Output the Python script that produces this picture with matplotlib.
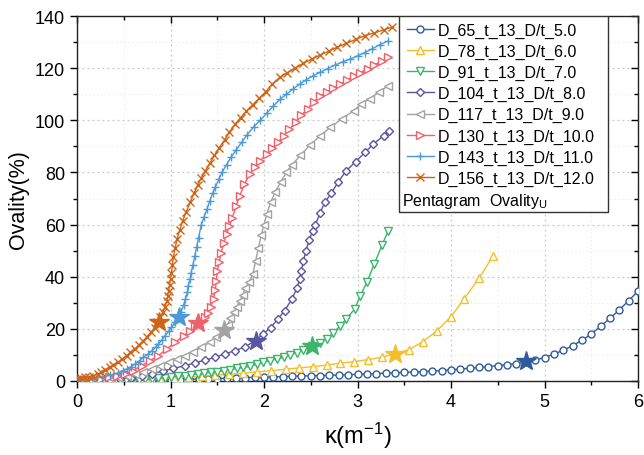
import matplotlib
matplotlib.use("Agg")
import matplotlib.pyplot as plt
from matplotlib.patches import Rectangle
from matplotlib.ticker import MultipleLocator

plt.rcParams["font.family"] = ["Liberation Sans", "DejaVu Sans"]
plt.rcParams["mathtext.fontset"] = "custom"
plt.rcParams["mathtext.rm"] = "Liberation Sans"
plt.rcParams["mathtext.it"] = "Liberation Sans:italic"

# ---- data (kappa in 1/m, ovality in %) ----
labels = ["D_65_t_13_D/t_5.0", "D_78_t_13_D/t_6.0", "D_91_t_13_D/t_7.0",
          "D_104_t_13_D/t_8.0", "D_117_t_13_D/t_9.0", "D_130_t_13_D/t_10.0",
          "D_143_t_13_D/t_11.0", "D_156_t_13_D/t_12.0"]

k_d65 = [round(0.1 * i, 1) for i in range(61)]
ov_d65 = [0.0, 0.0, 0.0, 0.05, 0.1, 0.15, 0.2, 0.3, 0.35, 0.45, 0.5,
          0.55, 0.65, 0.75, 0.85, 0.95, 1.05, 1.15, 1.3, 1.4, 1.5,
          1.6, 1.7, 1.8, 1.9, 2.0, 2.1, 2.2, 2.3, 2.4, 2.55,
          2.7, 2.85, 3.0, 3.15, 3.3, 3.45, 3.6, 3.8, 4.0, 4.3,
          4.6, 4.9, 5.2, 5.5, 5.9, 6.3, 6.7, 7.2, 8.0, 9.0,
          10.3, 11.8, 13.5, 15.6, 18.0, 21.0, 24.0, 27.3, 30.8, 34.5]

k_d78 = [0.00, 0.15, 0.30, 0.45, 0.59, 0.74, 0.89, 1.04, 1.19, 1.34, 1.48,
         1.63, 1.78, 1.93, 2.08, 2.23, 2.37, 2.52, 2.67, 2.81, 2.96,
         3.11, 3.26, 3.40, 3.55, 3.70, 3.85, 4.00, 4.14, 4.30, 4.45]
ov_d78 = [0.0, 0.05, 0.1, 0.25, 0.4, 0.6, 0.9, 1.2, 1.5, 1.8, 2.2,
          2.6, 3.0, 3.5, 4.0, 4.5, 5.0, 5.5, 6.1, 6.8, 7.4,
          8.2, 9.1, 10.4, 12.0, 15.1, 19.3, 24.7, 31.5, 39.4, 48.0]

k_d91 = [0.00, 0.14, 0.28, 0.42, 0.52, 0.59, 0.66, 0.73, 0.80, 0.87, 0.94,
         1.01, 1.08, 1.15, 1.22, 1.29, 1.36, 1.43, 1.50, 1.57, 1.64,
         1.71, 1.78, 1.85, 1.92, 1.99, 2.06, 2.14, 2.21, 2.28, 2.35,
         2.42, 2.51, 2.60, 2.67, 2.74, 2.81, 2.88, 2.97, 3.03, 3.10,
         3.18, 3.26, 3.33]
ov_d91 = [0.0, 0.05, 0.1, 0.2, 0.3, 0.4, 0.5, 0.7, 0.9, 1.1, 1.3,
          1.5, 1.8, 2.1, 2.4, 2.7, 3.0, 3.3, 3.6, 4.0, 4.4,
          4.8, 5.2, 5.6, 6.4, 7.1, 7.8, 8.4, 9.1, 10.0, 10.9,
          11.8, 13.3, 14.6, 16.1, 18.4, 21.0, 23.8, 27.6, 32.7, 37.9,
          44.9, 52.0, 57.7]

k_d104 = [0.00, 0.12, 0.23, 0.35, 0.46, 0.58, 0.69, 0.80, 0.92, 1.03,
          1.16, 1.26, 1.37, 1.48, 1.58, 1.69, 1.80, 1.90, 1.99, 2.07,
          2.15, 2.22, 2.30, 2.35, 2.38, 2.40, 2.42, 2.45, 2.48, 2.52,
          2.55, 2.60, 2.65, 2.72, 2.79, 2.88, 2.98, 3.08, 3.17, 3.28, 3.34]
ov_d104 = [0.0, 0.1, 0.3, 0.5, 0.8, 1.2, 2.0, 2.8, 3.8, 4.8,
           5.9, 7.0, 8.0, 9.1, 10.4, 11.6, 13.2, 15.3, 18.0, 20.5,
           23.8, 27.0, 31.5, 35.5, 39.0, 42.0, 46.0, 50.0, 54.0, 57.5,
           60.0, 64.5, 68.5, 72.0, 76.2, 80.7, 84.1, 87.7, 90.9, 94.1, 95.8]

k_d117 = [0.00, 0.09, 0.18, 0.27, 0.36, 0.44, 0.53, 0.62, 0.71, 0.80,
          0.89, 0.98, 1.07, 1.16, 1.24, 1.33, 1.42, 1.49, 1.57, 1.61,
          1.64, 1.68, 1.71, 1.74, 1.77, 1.80, 1.84, 1.88, 1.91, 1.94,
          1.97, 2.00, 2.03, 2.07, 2.12, 2.18, 2.24, 2.30, 2.39, 2.49,
          2.60, 2.71, 2.83, 2.96, 3.04, 3.13, 3.23, 3.33]
ov_d117 = [0.0, 0.2, 0.4, 0.7, 1.0, 1.5, 2.0, 2.7, 3.6, 4.6,
           5.9, 7.2, 8.4, 9.7, 11.0, 12.9, 14.8, 16.8, 19.3, 21.5,
           24.0, 26.5, 28.5, 30.5, 33.0, 35.5, 38.0, 41.0, 46.0, 51.0,
           56.0, 60.0, 64.0, 68.5, 72.5, 76.5, 80.0, 83.0, 86.5, 90.5,
           94.0, 97.3, 100.5, 103.7, 106.3, 108.3, 110.8, 113.3]

k_d130 = [0.00, 0.09, 0.17, 0.26, 0.34, 0.43, 0.51, 0.60, 0.69, 0.78,
          0.87, 0.96, 1.05, 1.14, 1.21, 1.26, 1.31, 1.37, 1.40, 1.43,
          1.46, 1.48, 1.49, 1.50, 1.52, 1.54, 1.57, 1.60, 1.63, 1.66,
          1.70, 1.74, 1.79, 1.85, 1.90, 1.96, 2.03, 2.09, 2.15, 2.21,
          2.27, 2.34, 2.40, 2.47, 2.53, 2.60, 2.67, 2.74, 2.81, 2.89,
          2.96, 3.03, 3.11, 3.18, 3.26, 3.33]
ov_d130 = [0.1, 0.3, 0.5, 0.9, 1.4, 2.0, 2.7, 4.0, 5.9, 7.8,
           9.7, 12.3, 14.8, 17.4, 19.3, 21.0, 23.0, 24.5, 26.0, 28.5,
           31.5, 35.0, 38.5, 42.0, 45.5, 49.0, 53.0, 56.5, 59.5, 62.5,
           67.0, 71.0, 75.5, 79.5, 82.0, 84.5, 87.0, 89.3, 91.5, 94.0,
           96.5, 99.5, 102.0, 104.5, 107.0, 109.3, 110.8, 112.3, 113.8, 115.4,
           117.0, 118.3, 119.7, 121.2, 122.7, 124.2]

k_d143 = [0.00, 0.09, 0.18, 0.27, 0.35, 0.44, 0.49, 0.53, 0.58, 0.62,
          0.67, 0.71, 0.76, 0.80, 0.84, 0.87, 0.91, 0.94, 0.98, 1.01,
          1.05, 1.08, 1.11, 1.14, 1.16, 1.18, 1.19, 1.21, 1.22, 1.24,
          1.26, 1.28, 1.30, 1.33, 1.36, 1.39, 1.42, 1.45, 1.48, 1.52,
          1.55, 1.60, 1.65, 1.70, 1.76, 1.82, 1.89, 1.96, 2.03, 2.10,
          2.17, 2.24, 2.31, 2.38, 2.45, 2.52, 2.60, 2.68, 2.76, 2.84,
          2.92, 3.00, 3.08, 3.16, 3.24, 3.33]
ov_d143 = [0.3, 0.5, 0.9, 1.5, 2.2, 3.1, 3.8, 4.6, 5.5, 6.5,
           7.8, 9.1, 10.3, 11.6, 12.9, 14.2, 15.8, 17.4, 19.0, 20.6,
           22.5, 24.4, 26.5, 29.0, 31.5, 34.0, 36.5, 39.0, 41.5, 44.5,
           48.0, 51.5, 55.0, 60.0, 63.0, 66.0, 69.0, 72.0, 74.5, 77.5,
           80.0, 83.0, 86.0, 88.5, 91.5, 94.5, 97.5, 100.0, 102.8, 105.5,
           108.0, 110.0, 112.0, 113.8, 115.5, 117.0, 118.4, 119.8, 121.2, 122.4,
           123.5, 124.7, 126.0, 127.5, 129.0, 130.5]

k_d156 = [0.00, 0.04, 0.09, 0.13, 0.17, 0.22, 0.26, 0.30, 0.35, 0.39,
          0.44, 0.48, 0.53, 0.57, 0.62, 0.66, 0.71, 0.75, 0.79, 0.83,
          0.86, 0.89, 0.92, 0.94, 0.96, 0.97, 0.98, 0.99, 1.00, 1.01,
          1.02, 1.03, 1.05, 1.07, 1.10, 1.13, 1.17, 1.21, 1.25, 1.29,
          1.33, 1.37, 1.42, 1.47, 1.52, 1.58, 1.63, 1.69, 1.75, 1.81,
          1.88, 1.95, 2.02, 2.09, 2.17, 2.25, 2.33, 2.42, 2.51, 2.60,
          2.69, 2.78, 2.88, 2.98, 3.08, 3.18, 3.28, 3.37]
ov_d156 = [0.8, 1.0, 1.4, 1.7, 2.0, 2.6, 3.3, 4.2, 5.3, 6.2,
           7.2, 8.4, 9.7, 11.0, 12.3, 13.8, 15.5, 17.0, 18.7, 20.5,
           22.5, 24.5, 26.5, 28.5, 30.5, 32.5, 34.5, 37.0, 39.0, 41.5,
           44.5, 47.5, 51.0, 54.5, 58.0, 61.5, 65.0, 68.5, 72.0, 75.0,
           78.0, 80.5, 83.5, 86.5, 89.5, 92.5, 95.5, 98.5, 101.0, 103.5,
           106.0, 108.5, 111.0, 114.0, 116.5, 118.3, 120.0, 121.8, 123.5, 125.0,
           126.5, 128.0, 129.5, 131.0, 132.5, 133.5, 134.7, 135.7]

# Ovality_U points (pentagram markers), one per series
star_k = [4.80, 3.40, 2.51, 1.91, 1.57, 1.29, 1.09, 0.88]
star_ov = [7.5, 10.3, 13.4, 15.3, 19.4, 22.3, 24.6, 22.6]

series_k = [k_d65, k_d78, k_d91, k_d104, k_d117, k_d130, k_d143, k_d156]
series_ov = [ov_d65, ov_d78, ov_d91, ov_d104, ov_d117, ov_d130, ov_d143, ov_d156]

colors = ["#2f5b9c", "#f4bf2a", "#3cb46a", "#5a55a3", "#a3a3a3",
          "#f0606b", "#4d9ad6", "#cf6417"]
markers = ["o", "^", "v", "D", "<", ">", "+", "x"]
msizes = [5, 5.5, 5.5, 4.5, 5.5, 5.5, 6, 6]

fig = plt.figure(figsize=(6.44, 4.56), dpi=100)
ax = fig.add_axes([0.1196, 0.1623, 0.8711, 0.8004])

handles = []
for k, ov, c, m, ms, lab in zip(series_k, series_ov, colors, markers, msizes, labels):
    filled = m in ("+", "x")
    h, = ax.plot(k, ov, color=c, lw=1.0, marker=m, ms=ms,
                 mfc=c if filled else "white", mec=c, mew=1.0, label=lab, zorder=3)
    handles.append(h)

for kx, oy, c in zip(star_k, star_ov, colors):
    ax.plot(kx, oy, marker="*", ms=15, color=c, mec=c, zorder=5, ls="none")

ax.set_xlim(0, 6)
ax.set_ylim(0, 140)
ax.xaxis.set_major_locator(MultipleLocator(1))
ax.xaxis.set_minor_locator(MultipleLocator(0.5))
ax.yaxis.set_major_locator(MultipleLocator(20))
ax.yaxis.set_minor_locator(MultipleLocator(10))

ax.grid(which="major", ls=(0, (1.5, 2.5)), color="#c8c8c8", lw=0.9, zorder=0)
ax.grid(which="minor", ls=(0, (1.5, 2.5)), color="#ececec", lw=0.7, zorder=0)

ax.tick_params(which="both", direction="out", labelsize=13, width=1.0)
ax.tick_params(which="major", length=5)
ax.tick_params(which="minor", length=3)
ax.tick_params(which="both", top=True, right=True)
# top and right ticks point inward, left and bottom outward
for t in ax.xaxis.get_ticklines(minor=False)[1::2] + ax.xaxis.get_ticklines(minor=True)[1::2]:
    t.set_marker(3)
for t in ax.yaxis.get_ticklines(minor=False)[1::2] + ax.yaxis.get_ticklines(minor=True)[1::2]:
    t.set_marker(0)
for sp in ax.spines.values():
    sp.set_linewidth(1.0)
    sp.set_color("#222222")

ax.set_ylabel("Ovality(%)", fontsize=15.5, labelpad=4)
ax.set_xlabel("κ(m$^{-1}$)", fontsize=17, labelpad=7)

leg = ax.legend(handles=handles, loc="upper left", bbox_to_anchor=(0.576, 1.0),
                frameon=False, fontsize=11.5, handlelength=1.7, handletextpad=0.25,
                labelspacing=0.38, borderpad=0.4, borderaxespad=0.0)
leg.set_zorder(6)
ax.add_patch(Rectangle((0.574, 0.463), 0.373, 0.537, transform=ax.transAxes,
                       facecolor="white", edgecolor="#333333", lw=1.0, zorder=5.5))
ax.text(0.579, 0.494, "Pentagram  Ovality$_{\\mathrm{U}}$", transform=ax.transAxes,
        fontsize=11.5, va="center", ha="left", zorder=7)

fig.savefig("out.png", dpi=100)
